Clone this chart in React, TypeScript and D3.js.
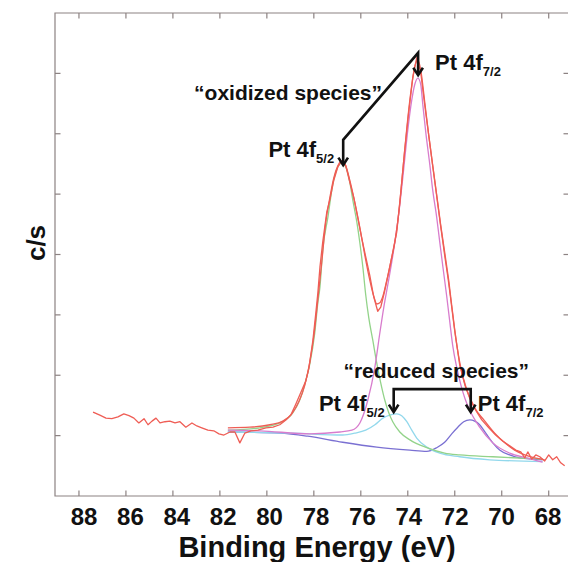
import React from 'react';
import * as d3 from 'd3';

// ---- data (binding energy eV, counts per second in arbitrary units) ----
const xTickValues = [88, 86, 84, 82, 80, 78, 76, 74, 72, 70, 68];
const yTickValues = [1, 2, 3, 4, 5, 6, 7];

const rawData: [number, number][] = [
  [87.40, 1.39], [87.11, 1.34], [86.85, 1.29], [86.60, 1.28], [86.34, 1.31], [86.09, 1.36],
  [85.87, 1.33], [85.66, 1.29], [85.45, 1.21], [85.23, 1.28], [85.06, 1.18], [84.89, 1.24],
  [84.72, 1.29], [84.55, 1.21], [84.34, 1.23], [84.13, 1.24], [83.91, 1.21], [83.70, 1.23],
  [83.45, 1.14], [83.19, 1.21], [82.98, 1.16], [82.77, 1.13], [82.51, 1.09], [82.26, 1.08],
  [82.04, 1.03], [81.83, 1.01], [81.57, 1.06], [81.36, 1.06], [81.15, 0.88], [80.94, 1.04],
  [80.68, 1.08], [80.38, 1.09], [80.04, 1.13], [79.74, 1.14], [79.45, 1.18], [79.19, 1.26],
  [78.98, 1.34], [78.77, 1.52], [78.55, 1.72], [78.34, 1.91], [78.21, 2.12], [78.04, 2.58],
  [77.91, 3.05], [77.83, 3.36], [77.74, 3.79], [77.62, 4.21], [77.45, 4.70], [77.32, 4.90],
  [77.15, 5.23], [76.98, 5.45], [76.81, 5.55], [76.64, 5.47], [76.47, 5.20], [76.30, 4.94],
  [76.13, 4.61], [75.96, 4.27], [75.79, 3.96], [75.62, 3.66], [75.45, 3.30], [75.28, 3.06],
  [75.15, 3.13], [74.98, 3.40], [74.81, 3.71], [74.64, 4.04], [74.47, 4.37], [74.30, 5.02],
  [74.13, 5.73], [73.96, 6.36], [73.79, 6.92], [73.62, 7.26], [73.45, 7.02], [73.28, 6.48],
  [73.11, 5.98], [72.94, 5.48], [72.77, 4.99], [72.60, 4.49], [72.43, 4.04], [72.26, 3.58],
  [72.13, 3.16], [72.00, 2.75], [71.79, 2.17], [71.57, 1.84], [71.36, 1.62], [71.11, 1.42],
  [70.85, 1.26], [70.55, 1.13], [70.26, 1.01], [69.96, 0.91], [69.66, 0.83], [69.40, 0.76],
  [69.19, 0.73], [69.02, 0.63], [68.89, 0.73], [68.72, 0.61], [68.55, 0.68], [68.38, 0.65],
  [68.17, 0.58], [68.00, 0.68], [67.83, 0.60], [67.66, 0.65], [67.49, 0.55], [67.32, 0.50],
];

const fitEnvelope: [number, number][] = [
  [81.66, 1.13], [80.72, 1.14], [79.87, 1.18], [79.32, 1.24], [78.94, 1.36], [78.64, 1.56],
  [78.38, 1.84], [78.17, 2.22], [78.00, 2.65], [77.83, 3.25], [77.66, 3.88], [77.49, 4.54],
  [77.32, 4.94], [77.15, 5.27], [76.98, 5.47], [76.81, 5.55], [76.64, 5.47], [76.47, 5.23],
  [76.26, 4.87], [76.04, 4.44], [75.83, 3.99], [75.62, 3.58], [75.45, 3.31], [75.32, 3.18],
  [75.19, 3.20], [75.06, 3.31], [74.89, 3.58], [74.72, 3.88], [74.55, 4.21], [74.38, 4.70],
  [74.21, 5.40], [74.04, 6.10], [73.87, 6.69], [73.70, 7.12], [73.57, 7.22], [73.45, 7.06],
  [73.28, 6.53], [73.11, 5.98], [72.94, 5.47], [72.77, 4.97], [72.60, 4.47], [72.43, 3.99],
  [72.26, 3.53], [72.13, 3.13], [71.96, 2.62], [71.74, 2.12], [71.49, 1.76], [71.15, 1.46],
  [70.72, 1.24], [70.30, 1.04], [69.87, 0.88], [69.45, 0.76], [69.02, 0.68], [68.60, 0.63],
  [68.17, 0.60],
];

const oxidized52: [number, number][] = [
  [81.66, 1.09], [80.30, 1.13], [79.45, 1.21], [78.89, 1.38], [78.60, 1.59], [78.38, 1.86],
  [78.17, 2.19], [77.96, 2.70], [77.83, 3.20], [77.74, 3.46], [77.62, 4.08], [77.40, 4.62],
  [77.19, 5.17], [76.98, 5.45], [76.81, 5.52], [76.64, 5.45], [76.47, 5.20], [76.34, 4.90],
  [76.17, 4.54], [76.04, 4.19], [75.91, 3.78], [75.79, 3.33], [75.66, 2.95], [75.49, 2.58],
  [75.32, 2.20], [75.15, 1.87], [74.98, 1.59], [74.81, 1.38], [74.64, 1.23], [74.34, 1.06],
  [73.91, 0.93], [73.19, 0.80], [72.43, 0.71], [71.79, 0.68], [70.38, 0.65], [68.26, 0.61],
];

const oxidized72: [number, number][] = [
  [81.66, 1.09], [80.30, 1.08], [78.17, 1.03], [76.89, 1.06], [76.38, 1.09], [76.04, 1.21],
  [75.70, 1.59], [75.40, 2.14], [75.19, 2.70], [75.02, 3.13], [74.85, 3.50], [74.68, 3.88],
  [74.51, 4.31], [74.34, 4.82], [74.17, 5.43], [74.00, 6.06], [73.83, 6.56], [73.70, 6.82],
  [73.57, 6.92], [73.45, 6.82], [73.36, 6.48], [73.23, 6.01], [73.06, 5.48], [72.94, 5.07],
  [72.77, 4.62], [72.64, 4.21], [72.51, 3.81], [72.34, 3.30], [72.21, 2.88], [72.09, 2.50],
  [71.91, 2.12], [71.74, 1.84], [71.57, 1.62], [71.36, 1.42], [70.94, 1.14], [70.38, 0.88],
  [69.66, 0.71], [68.94, 0.63], [68.26, 0.56],
];

const reduced52: [number, number][] = [
  [81.66, 1.06], [78.89, 1.04], [76.77, 1.01], [76.26, 1.04], [75.79, 1.09], [75.40, 1.18],
  [75.06, 1.29], [74.77, 1.34], [74.47, 1.36], [74.26, 1.33], [74.04, 1.23], [73.83, 1.09],
  [73.62, 0.96], [73.19, 0.81], [72.64, 0.71], [71.79, 0.65], [70.51, 0.60], [68.26, 0.57],
];

const reduced72: [number, number][] = [
  [81.66, 1.06], [79.45, 1.04], [78.26, 0.99], [76.77, 0.89], [75.32, 0.81], [73.91, 0.76],
  [73.19, 0.74], [72.77, 0.80], [72.43, 0.89], [72.13, 1.03], [71.87, 1.14], [71.62, 1.23],
  [71.36, 1.26], [71.15, 1.24], [70.94, 1.18], [70.68, 1.04], [70.38, 0.88], [70.09, 0.76],
  [69.66, 0.68], [69.23, 0.63], [68.26, 0.60],
];

// annotation anchor points (eV, c/s)
const oxApex: [number, number] = [73.56, 7.34];
const ox72Tip: [number, number] = [73.56, 6.97];
const ox52Corner: [number, number] = [76.75, 5.90];
const ox52Tip: [number, number] = [76.75, 5.48];
const redBracketY = 1.77;
const redTipY = 1.39;
const red52E = 74.60;
const red72E = 71.32;

const FONT = "'Liberation Sans', Arial, Helvetica, sans-serif";

export default function App() {
  const W = 568, H = 562;
  const left = 55, right = 568, top = 13, bottom = 496;
  const x = d3.scaleLinear().domain([89.02, 67.2]).range([left, 567.5]);
  const y = d3.scaleLinear().domain([0, 8]).range([bottom, top]);
  const xLabelPos = d3.scaleLinear().domain([88, 68]).range([84, 548]);

  const smooth = d3.line<[number, number]>().x(d => x(d[0])).y(d => y(d[1])).curve(d3.curveMonotoneX);
  const jagged = d3.line<[number, number]>().x(d => x(d[0])).y(d => y(d[1]));

  const arrowHead = (px: number, py: number) =>
    `M${px - 4.8},${py - 7.5} L${px},${py} L${px + 4.8},${py - 7.5}`;

  const frameColor = '#8c8282';
  const ink = '#111';

  const apx = x(oxApex[0]), apy = y(oxApex[1]);
  const t72y = y(ox72Tip[1]);
  const cx = x(ox52Corner[0]), cy = y(ox52Corner[1]);
  const t52y = y(ox52Tip[1]);
  const bY = y(redBracketY), tipY = y(redTipY);
  const b52 = x(red52E), b72 = x(red72E);

  const ptLabel = (sub: string) => [
    <tspan key="a">Pt 4f</tspan>,
    <tspan key="b" fontSize={13} dy={6}>{sub}</tspan>,
  ];

  return (
    <svg width={W} height={H} style={{ position: 'absolute', left: 0, top: 0, background: '#fff' }}
      fontFamily={FONT}>
      <defs>
        <clipPath id="plotClip">
          <rect x={left} y={top} width={right - left} height={bottom - top} />
        </clipPath>
      </defs>

      {/* frame (right side is cut by the picture edge) */}
      <path d={`M${right},${top} L${left},${top} L${left},${bottom} L${right},${bottom}`} fill="none"
        stroke={frameColor} strokeWidth={1.2} />
      {xTickValues.map(v => (
        <g key={'xt' + v}>
          <line x1={x(v)} x2={x(v)} y1={bottom} y2={bottom - 5.5} stroke={frameColor} strokeWidth={1.2} />
          <line x1={x(v)} x2={x(v)} y1={top} y2={top + 5.5} stroke={frameColor} strokeWidth={1.2} />
          <text x={xLabelPos(v)} y={525} textAnchor="middle" fontSize={24} fontWeight="bold" fill={ink}>{v}</text>
        </g>
      ))}
      {yTickValues.map(v => (
        <g key={'yt' + v}>
          <line x1={left} x2={left + 5.5} y1={y(v)} y2={y(v)} stroke={frameColor} strokeWidth={1.2} />
          <line x1={right} x2={right - 4.5} y1={y(v)} y2={y(v)} stroke={frameColor} strokeWidth={1.2} />
        </g>
      ))}

      {/* axis titles */}
      <text x={317} y={557} textAnchor="middle" fontSize={29} fontWeight="bold" fill={ink}>Binding Energy (eV)</text>
      <text transform={`translate(45,243) rotate(-90)`} textAnchor="middle" fontSize={26} fontWeight="bold" fill={ink}>c/s</text>

      {/* curves */}
      <g clipPath="url(#plotClip)" fill="none" strokeWidth={1.3} strokeLinejoin="round">
        <path d={smooth(reduced72) || ''} stroke="#7a70d2" />
        <path d={smooth(reduced52) || ''} stroke="#92d8ec" />
        <path d={smooth(oxidized52) || ''} stroke="#93d38a" />
        <path d={smooth(oxidized72) || ''} stroke="#d87ccd" />
        <path d={smooth(fitEnvelope) || ''} stroke="#ef5d55" />
        <path d={jagged(rawData) || ''} stroke="#ef5d55" />
      </g>

      {/* oxidized annotations */}
      <g stroke={ink} strokeWidth={2.6} fill="none" strokeLinecap="butt">
        <path d={`M${cx},${t52y - 1} L${cx},${cy} L${apx},${apy} L${apx},${t72y - 1}`} />
        <path d={arrowHead(apx, t72y)} />
        <path d={arrowHead(cx, t52y)} />
        {/* reduced bracket */}
        <path d={`M${b52},${tipY - 1} L${b52},${bY} L${b72},${bY} L${b72},${tipY - 1}`} />
        <path d={arrowHead(b52, tipY)} />
        <path d={arrowHead(b72, tipY)} />
      </g>

      <g fontWeight="bold" fill={ink} fontSize={22}>
        <text x={apx + 17} y={apy + 17}>{ptLabel('7/2')}</text>
        <text x={382} y={100} textAnchor="end" fontSize={21}>“oxidized species”</text>
        <text x={cx - 9} y={t52y - 8} textAnchor="end">{ptLabel('5/2')}</text>
        <text x={(b52 + b72) / 2 + 4} y={bY - 11} textAnchor="middle" fontSize={21}>“reduced species”</text>
        <text x={b52 - 9} y={tipY - 1} textAnchor="end">{ptLabel('5/2')}</text>
        <text x={b72 + 7} y={tipY - 1}>{ptLabel('7/2')}</text>
      </g>
    </svg>
  );
}
